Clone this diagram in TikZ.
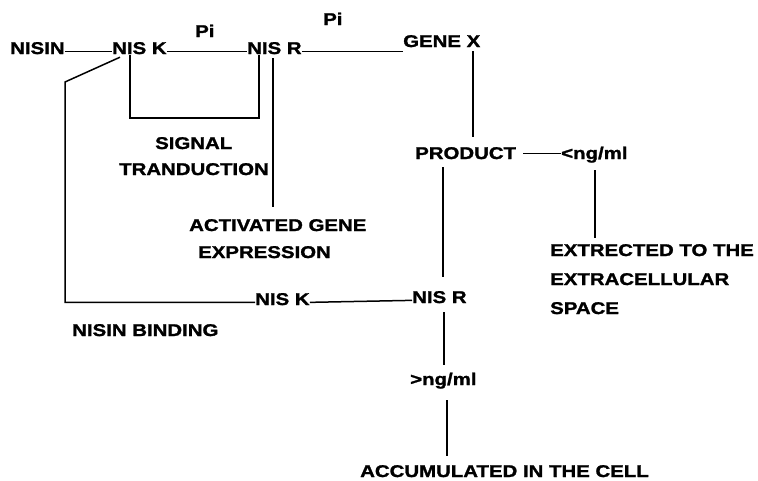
\documentclass[tikz,border=0pt]{standalone}
\usepackage{fontspec}
\setmainfont{Liberation Sans}[FakeStretch=1.2,BoldFeatures={FakeBold=1.5}]
\usetikzlibrary{calc}
\begin{document}
\begin{tikzpicture}[x=1pt,y=-1pt,
  lbl/.style={inner sep=0pt,anchor=base west,text height=12.2pt,text depth=0pt,
    font=\fontsize{17}{17}\selectfont\bfseries},
  con/.style={line width=1.5pt,black}]
\useasboundingbox (0,0) rectangle (758,480);
% row 1
\node[lbl] (nisin) at (10,54) {NISIN};
\node[lbl] (nisk1) at (112,54) {NIS K};
\node[lbl] (nisr1) at (247,54) {NIS R};
\node[lbl] (pi1) at (195,37) {Pi};
\node[lbl] (pi2) at (323,25) {Pi};
\node[lbl] (genex) at (403,47) {GENE X};
% middle
\node[lbl] (sig1) at (155,149) {SIGNAL};
\node[lbl] (sig2) at (119,175) {TRANDUCTION};
\node[lbl] (act1) at (189,231) {ACTIVATED GENE};
\node[lbl] (act2) at (198,258) {EXPRESSION};
\node[lbl] (product) at (415,159) {PRODUCT};
\node[lbl] (ltng) at (561,159) {<ng/ml};
\node[lbl] (ext1) at (550,256) {EXTRECTED TO THE};
\node[lbl] (ext2) at (550,285) {EXTRACELLULAR};
\node[lbl] (ext3) at (550,314) {SPACE};
\node[lbl] (nisk2) at (255,305) {NIS K};
\node[lbl] (nisr2) at (412,303) {NIS R};
\node[lbl] (bind) at (72,336) {NISIN BINDING};
\node[lbl] (gtng) at (410,385) {>ng/ml};
\node[lbl] (acc) at (360,477) {ACCUMULATED IN THE CELL};
% connectors row 1
\draw[con] (nisin.mid east) -- (nisk1.mid west);
\draw[con] (nisk1.mid east) -- (nisr1.mid west);
\draw[con] (nisr1.mid east) -- (nisr1.mid east -| genex.west);
% signal bracket
\draw[con] ([xshift=18,yshift=-1]nisk1.south west) -- ++(0,63) -| ([xshift=12,yshift=-1]nisr1.south west);
% NIS R to activated gene expression
\coordinate (v1) at ([xshift=26,yshift=-4]nisr1.south west);
\draw[con] (v1) -- ([yshift=12]v1 |- act1.north);
% nisin binding loop
\coordinate (d1) at ([xshift=8,yshift=-3]nisk1.south west);
\coordinate (d2) at (65,82);
\draw[con] (d1) -- (d2) |- (nisk2.mid west);
\draw[con] (nisk2.mid east) -- (nisr2.mid west);
% gene x to product
\coordinate (v2) at ([xshift=70,yshift=-4]genex.south west);
\draw[con] (v2) -- ([yshift=10]v2 |- product.north);
% product to <ng/ml
\draw[con] ([xshift=7,yshift=3]product.mid east) -- ([yshift=3]product.mid east -| ltng.west);
\coordinate (v3) at ([xshift=34,yshift=-11]ltng.south west);
\draw[con] (v3) -- ([yshift=6]v3 |- ext1.north);
% product to nis r
\coordinate (v4) at ([xshift=28,yshift=-8]product.south west);
\draw[con] (v4) -- ([yshift=14]v4 |- nisr2.north);
% nis r to >ng/ml
\coordinate (v5) at ([xshift=32,yshift=-9]nisr2.south west);
\draw[con] (v5) -- ([yshift=8]v5 |- gtng.north);
\coordinate (v6) at ([xshift=37,yshift=-15]gtng.south west);
\draw[con] (v6) -- ([yshift=9]v6 |- acc.north);
\end{tikzpicture}
\end{document}
